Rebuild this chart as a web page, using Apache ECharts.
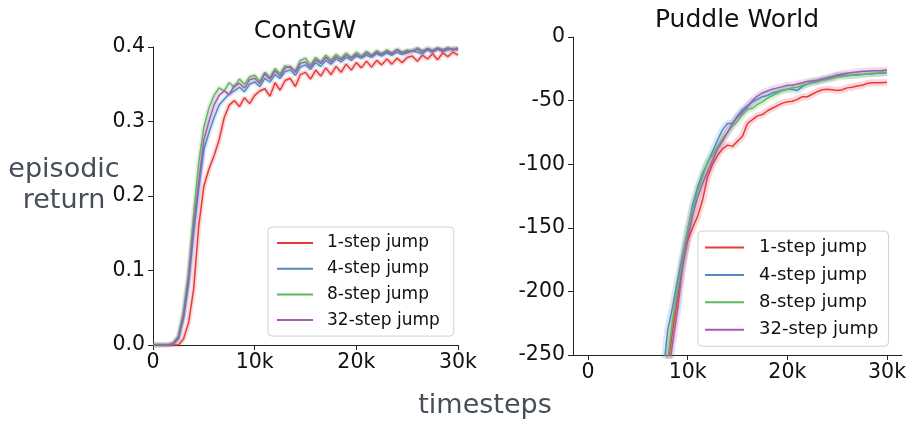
<!DOCTYPE html>
<html>
<head>
<meta charset="utf-8">
<script src="https://cdn.jsdelivr.net/npm/echarts@6/dist/echarts.min.js"></script>
<style>html,body{margin:0;padding:0;background:#fff}#c{width:909px;height:423px}</style>
</head>
<body>
<div id="c"></div>
<script>
// ---------- DATA ----------
const seriesNames = ['1-step jump', '4-step jump', '8-step jump', '32-step jump'];
const panelTitles = ['ContGW', 'Puddle World'];
const xTickValues = [0, 10000, 20000, 30000];

// ContGW (left panel)
const stepsL = [0,500,1000,1500,2000,2500,3000,3500,4000,4500,5000,5500,6000,6500,7000,7500,8000,8500,9000,9500,
  10000,10500,11000,11500,12000,12500,13000,13500,14000,14500,15000,15500,16000,16500,17000,17500,18000,18500,19000,19500,
  20000,20500,21000,21500,22000,22500,23000,23500,24000,24500,25000,25500,26000,26500,27000,27500,28000,28500,29000,29500,30000];
const redL = [0,0,0,0,0,0,0.008,0.030,0.075,0.160,0.213,0.236,0.254,0.275,0.305,0.322,
  0.328,0.320,0.332,0.324,0.335,0.341,0.344,0.334,0.352,0.342,0.355,0.358,0.347,0.363,0.366,0.357,0.369,0.361,0.372,0.363,
  0.374,0.366,0.377,0.369,0.379,0.372,0.381,0.373,0.382,0.376,0.384,0.377,0.385,0.379,0.386,0.388,0.381,0.389,0.384,0.391,
  0.383,0.392,0.387,0.393,0.389];
const blueL = [0,0,0,0,0.001,0.008,0.035,0.082,0.150,0.210,0.262,0.285,0.305,0.322,
  0.330,0.337,0.341,0.346,0.340,0.350,0.353,0.347,0.358,0.353,0.363,0.358,0.367,0.369,0.362,0.373,0.376,0.370,0.379,0.374,
  0.382,0.377,0.384,0.380,0.386,0.382,0.388,0.385,0.389,0.386,0.391,0.388,0.392,0.389,0.393,0.390,0.392,0.395,0.393,0.391,
  0.396,0.393,0.397,0.394,0.396,0.398,0.396];
const greenL = [0,0,0,0,0.003,0.012,0.045,0.097,0.175,0.245,0.292,0.318,0.335,
  0.345,0.341,0.352,0.346,0.357,0.350,0.360,0.362,0.354,0.366,0.359,0.371,0.364,0.375,0.372,0.368,0.382,0.385,0.376,0.386,
  0.380,0.389,0.383,0.390,0.385,0.392,0.386,0.393,0.388,0.394,0.389,0.395,0.391,0.396,0.392,0.397,0.393,0.396,0.394,0.399,
  0.395,0.398,0.396,0.399,0.397,0.398,0.397,0.399];
const purpleL = [0,0,0,0,0.002,0.010,0.040,0.090,0.160,0.218,0.275,0.300,0.322,0.335,
  0.341,0.336,0.348,0.351,0.345,0.356,0.358,0.351,0.364,0.357,0.368,0.361,0.372,0.374,0.366,0.378,0.380,0.373,0.383,0.378,
  0.386,0.380,0.387,0.383,0.389,0.385,0.390,0.386,0.392,0.388,0.393,0.390,0.394,0.391,0.396,0.392,0.394,0.395,0.397,0.393,
  0.398,0.394,0.398,0.395,0.399,0.396,0.398];

// Puddle World (right panel)
const stepsR = [7000,7500,8000,8500,9000,9500,10000,10500,11000,11500,12000,12500,13000,13500,14000,14500,15000,15500,16000,16500,
  17000,17500,18000,18500,19000,19500,20000,20500,21000,21500,22000,22500,23000,23500,24000,24500,25000,25500,26000,26500,
  27000,27500,28000,28500,29000,29500,30000];
const redR = [-300,-282,-258,-230,-205,-178,-160,-150,-141,-128,-110,-100,-93,-88,-85,-86,-82,-78,-68,-65,
  -62,-61,-58,-56,-54,-52,-51,-50.5,-49,-47,-47,-45,-43,-41.5,-41,-41.5,-42,-41.5,-40,-39.5,
  -38.5,-38,-36.5,-36,-36,-36,-35.5];
const blueR = [-290,-268,-230,-212,-191,-172,-152,-132,-118,-107,-99,-90,-81,-73,-68,-68,-62,-57,-54,-51,
  -49,-47,-46,-44,-43,-42,-41,-41,-42,-39,-37,-36,-35,-34,-33,-32,-30,-30,-30,-30,
  -29.5,-29.5,-29,-29,-28.5,-28.5,-28];
const greenR = [-300,-278,-255,-222,-198,-176,-152,-135,-121,-110,-98,-93,-86,-80,-75,-70,-66,-61,-57,-56,
  -53,-51,-48,-46,-44,-42,-41,-40,-39.5,-38,-37,-35.5,-35,-34,-33.5,-32.5,-31.5,-31,-30.5,-30,
  -30,-29.5,-29,-28.5,-28.5,-28,-28];
const purpleR = [-310,-290,-268,-240,-214,-180,-158,-140,-126,-115,-106,-97,-88,-82,-75,-68,-63,-59,-55,-50,
  -46.5,-44,-42.5,-41,-40,-39,-38,-38,-37,-36,-35,-34.5,-34,-33,-32,-31,-30,-29,-28.5,-28,
  -27.5,-27,-27,-26.5,-26.5,-26.5,-26];

// ---------- CHART ----------
const colors = ['#e8393b', '#4f8bc2', '#5fb85c', '#a35ab0'];
const FONT = 'DejaVu Sans';
const pairs = (xs, ys) => xs.map((x, i) => [x, ys[i]]);

const panels = [
  {steps: stepsL, vals: [redL, blueL, greenL, purpleL], band: 5},
  {steps: stepsR, vals: [redR, blueR, greenR, purpleR], band: 7}
];

const series = [];
panels.forEach((p, pi) => {
  p.vals.forEach((v, si) => {
    series.push({
      name: 'band' + pi + '_' + si, type: 'line', xAxisIndex: pi, yAxisIndex: pi,
      data: pairs(p.steps, v), showSymbol: false, symbol: 'none', silent: true,
      lineStyle: {color: colors[si], width: p.band, opacity: 0.2}, z: 1
    });
  });
  p.vals.forEach((v, si) => {
    series.push({
      name: seriesNames[si], type: 'line', xAxisIndex: pi, yAxisIndex: pi,
      data: pairs(p.steps, v), showSymbol: false, symbol: 'none',
      itemStyle: {color: colors[si]},
      lineStyle: {color: colors[si], width: 1.5}, z: 2
    });
  });
});

const axisLine = {show: true, onZero: false, lineStyle: {color: '#222', width: 1}};
const axisTick = {show: true, inside: false, length: 5, lineStyle: {color: '#222', width: 1}};
const tickLabel = {color: '#111', fontSize: 20.5, fontFamily: FONT};

const legendBase = {
  orient: 'vertical', data: seriesNames, selectedMode: false, symbolKeepAspect: true,
  backgroundColor: 'rgba(255,255,255,0.85)', borderColor: '#d0d0d0', borderWidth: 1, borderRadius: 4
};

const option = {
  backgroundColor: '#fff',
  animation: false,
  grid: [
    {left: 153, top: 47, width: 305, height: 298, containLabel: false},
    {left: 573, top: 37, width: 329, height: 318, containLabel: false}
  ],
  xAxis: [
    {type: 'value', gridIndex: 0, min: 0, max: 30000, interval: 10000,
     axisLine, axisTick, splitLine: {show: false},
     axisLabel: Object.assign({margin: 7, formatter: v => v === 0 ? '0' : (v / 1000) + 'k'}, tickLabel)},
    {type: 'value', gridIndex: 1, min: -1500, max: 31500,
     axisLine, splitLine: {show: false},
     axisTick: Object.assign({customValues: xTickValues}, axisTick),
     axisLabel: Object.assign({margin: 7, customValues: xTickValues, formatter: v => v === 0 ? '0' : (v / 1000) + 'k'}, tickLabel)}
  ],
  yAxis: [
    {type: 'value', gridIndex: 0, min: 0, max: 0.4, interval: 0.1,
     axisLine, axisTick, splitLine: {show: false},
     axisLabel: Object.assign({margin: 8, formatter: v => v.toFixed(1)}, tickLabel)},
    {type: 'value', gridIndex: 1, min: -250, max: 0, interval: 50,
     axisLine, axisTick, splitLine: {show: false},
     axisLabel: Object.assign({margin: 8, formatter: v => String(Math.round(v))}, tickLabel)}
  ],
  legend: [
    Object.assign({}, legendBase, {
      left: 268, top: 227, padding: [7, 14, 7, 9], itemWidth: 36, itemHeight: 18, itemGap: 7.7,
      icon: 'path://M0,0h36v2h-36z',
      textStyle: {fontFamily: FONT, fontSize: 17, color: '#111', lineHeight: 18, padding: [0, 0, 0, 9]}
    }),
    Object.assign({}, legendBase, {
      left: 698, top: 231, padding: [7, 10, 7, 7], itemWidth: 39, itemHeight: 19, itemGap: 8.4,
      icon: 'path://M0,0h39v2h-39z',
      textStyle: {fontFamily: FONT, fontSize: 18, color: '#111', lineHeight: 19, padding: [0, 0, 0, 10]}
    })
  ],
  graphic: [
    {type: 'text', x: 305, y: 31, style: {text: panelTitles[0], font: '25px "DejaVu Sans"', fill: '#111', textAlign: 'center', textVerticalAlign: 'middle'}},
    {type: 'text', x: 737, y: 20, style: {text: panelTitles[1], font: '25px "DejaVu Sans"', fill: '#111', textAlign: 'center', textVerticalAlign: 'middle'}},
    {type: 'text', x: 64, y: 170, style: {text: 'episodic', font: '27px "DejaVu Sans"', fill: '#464e5a', textAlign: 'center', textVerticalAlign: 'middle'}},
    {type: 'text', x: 64, y: 201, style: {text: 'return', font: '27px "DejaVu Sans"', fill: '#464e5a', textAlign: 'center', textVerticalAlign: 'middle'}},
    {type: 'text', x: 485, y: 406, style: {text: 'timesteps', font: '27px "DejaVu Sans"', fill: '#464e5a', textAlign: 'center', textVerticalAlign: 'middle'}}
  ],
  series
};

const chart = echarts.init(document.getElementById('c'), null, {renderer: 'canvas'});
chart.setOption(option);
</script>
</body>
</html>
